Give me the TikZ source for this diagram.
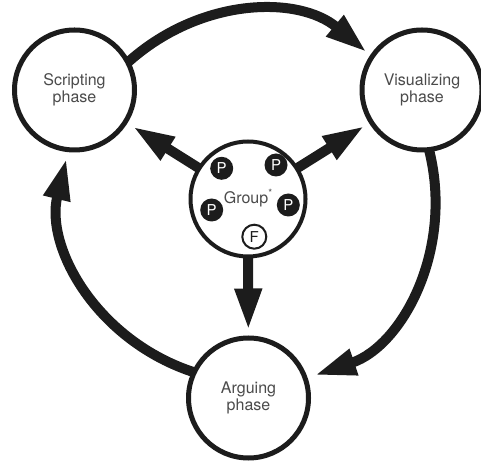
\documentclass[tikz,border=0pt]{standalone}
\usepackage{fontspec}
\setmainfont{TeX Gyre Heros}
\usetikzlibrary{arrows.meta}
\definecolor{ink}{RGB}{28,28,28}
\definecolor{txt}{RGB}{75,75,75}
\pgfdeclarelayer{bg}
\pgfsetlayers{bg,main}
\begin{document}
\begin{tikzpicture}[x=1pt,y=1pt,
  phase/.style={circle, draw=ink, line width=5pt, fill=white, minimum size=120pt, inner sep=0pt,
    align=center, text=txt, font=\fontsize{16}{16.5}\selectfont},
  grpc/.style={circle, draw=ink, line width=4pt, fill=white, minimum size=115pt, inner sep=0pt},
  pdot/.style={circle, fill=ink, minimum size=23pt, inner sep=0pt, text=white,
    font=\fontsize{15}{15}\selectfont},
  fdot/.style={circle, draw=ink, line width=2pt, fill=white, minimum size=24pt, inner sep=0pt,
    text=ink, font=\fontsize{15}{15}\selectfont},
  flow/.style={draw=ink, line width=10pt, -{Triangle[length=42pt,width=25pt]}},
]
\useasboundingbox (0,0) rectangle (481,460);
\node[phase] (scr) at (74.5,370) {Scripting\\phase};
\node[phase] (vis) at (422,370) {Visualizing\\phase};
\node[phase] (arg) at (248.5,62) {Arguing\\phase};
\node[grpc] (grp) at (248,261) {};
\node[text=txt, font=\fontsize{16}{16}\selectfont, inner sep=0pt] (glab) at (248,262)
  {Group\raisebox{0.8ex}{\fontsize{10}{10}\selectfont *}};
\node[pdot] (p1) at (221.7,291.7) {P};
\node[pdot] (p2) at (276,295) {P};
\node[pdot] (p3) at (211.7,250) {P};
\node[pdot] (p4) at (288.3,255) {P};
\node[fdot] (f) at (254.3,223.3) {F};
\begin{pgfonlayer}{bg}
\draw[flow, shorten <=-4pt, shorten >=4pt] (scr.28) to[bend left=41] (vis.146);
\draw[flow, shorten <=-4pt, shorten >=7pt] (vis.277) to[bend left=43] (arg.19);
\draw[flow, shorten <=-4pt, shorten >=6pt] (arg.155) to[bend left=43] (scr.264);
\draw[flow, shorten <=-3pt, shorten >=6pt] (grp) -- (scr);
\draw[flow, shorten <=-3pt, shorten >=5pt] (grp) -- (vis);
\draw[flow, shorten <=-3pt, shorten >=5pt] (grp) -- (arg);
\end{pgfonlayer}
\end{tikzpicture}
\end{document}
